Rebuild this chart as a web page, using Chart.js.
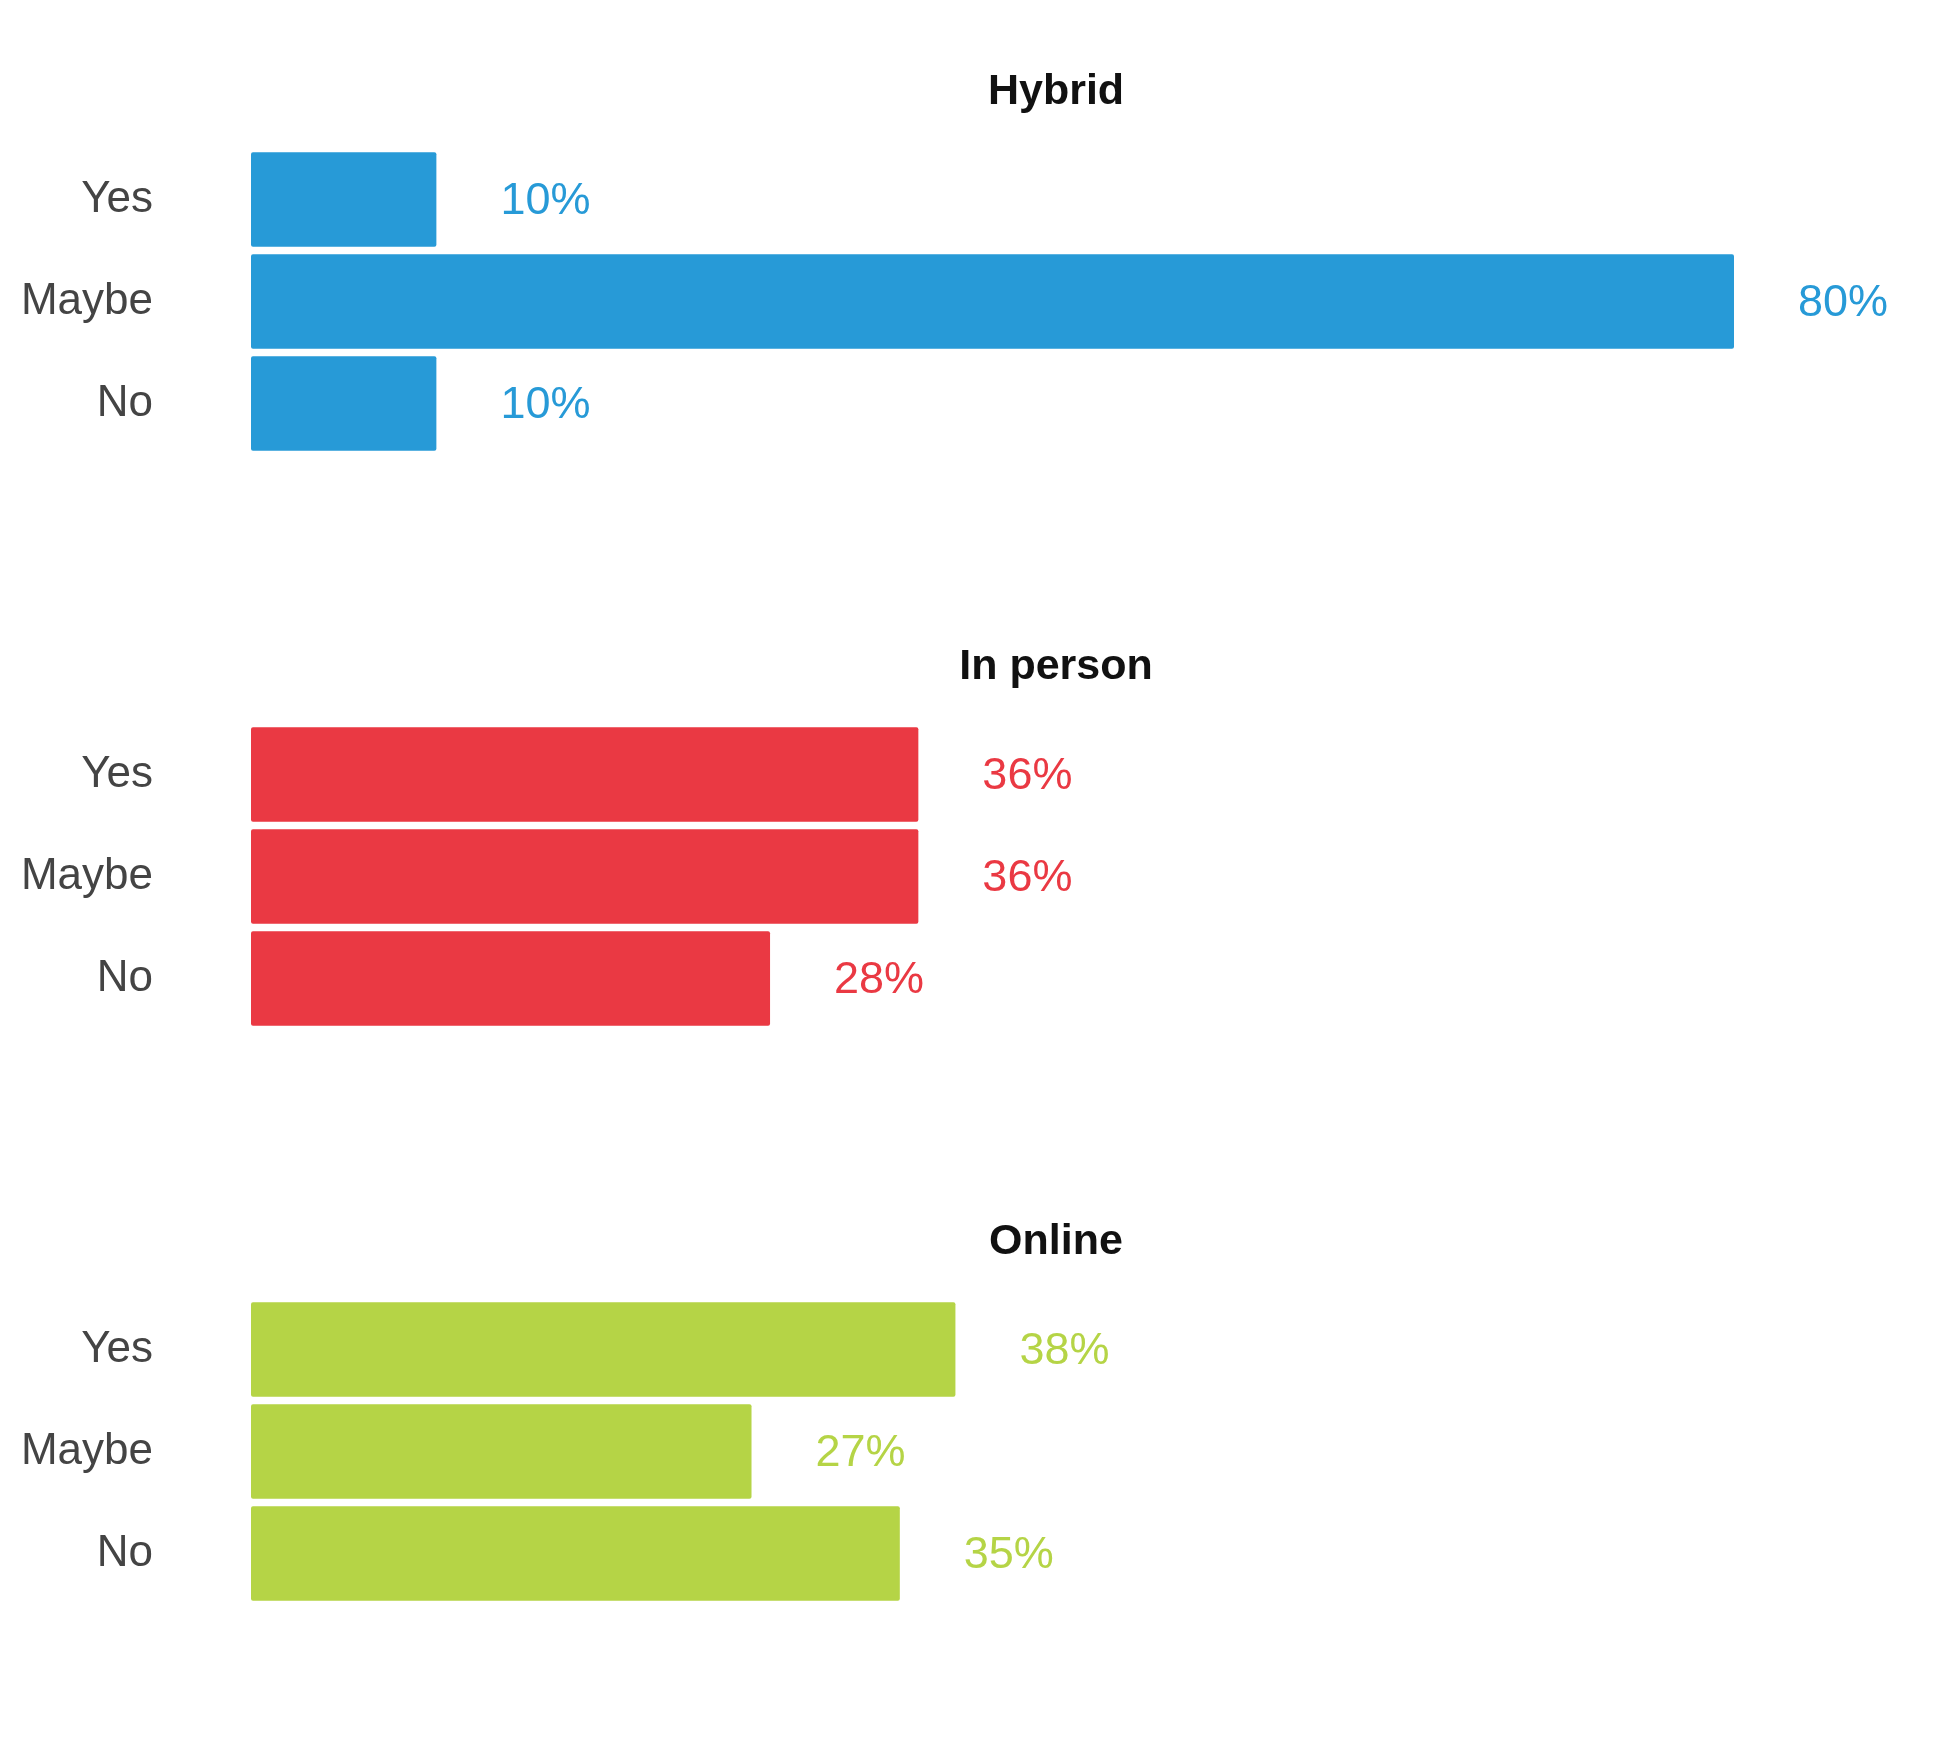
<!DOCTYPE html>
<html>
<head>
<meta charset="utf-8">
<script src="https://cdn.jsdelivr.net/npm/chart.js@4"></script>
<style>
  body { margin: 0; background: #fff; }
  canvas { position: absolute; left: 0; }
</style>
</head>
<body>
<canvas id="c0"></canvas>
<canvas id="c1"></canvas>
<canvas id="c2"></canvas>
<script>
// Data
const answers = ['Yes', 'Maybe', 'No'];
const panelTitles = ['Hybrid', 'In person', 'Online'];
const hybridValues = [10, 80, 10];
const inPersonValues = [36, 36, 28];
const onlineValues = [38, 27, 35];
const panelColors = ['#279ad7', '#ea3943', '#b5d446'];

const allValues = [hybridValues, inPersonValues, onlineValues];
const areaTops = [124, 699, 1274];
const PAD_TOP = 100, PAD_BOTTOM = 20, AREA_H = 435;
const FONT = '"Liberation Sans", Arial, sans-serif';

// Draws the panel title and the value labels at the bar ends
const labelPlugin = {
    id: 'labels',
    afterDatasetsDraw(chart, args, opts) {
        const ctx = chart.ctx;
        ctx.save();
        ctx.font = 'bold 43px ' + FONT;
        ctx.fillStyle = '#111';
        ctx.textAlign = 'center';
        ctx.textBaseline = 'middle';
        ctx.fillText(opts.title, 1056, chart.chartArea.top - 56);

        ctx.font = '45px ' + FONT;
        ctx.fillStyle = opts.color;
        ctx.textAlign = 'left';
        chart.getDatasetMeta(0).data.forEach((bar, i) => {
            const v = chart.data.datasets[0].data[i];
            ctx.fillText(v + '%', bar.x + 64, bar.y + 2);
        });
        ctx.restore();
    }
};

allValues.forEach((values, i) => {
    const canvas = document.getElementById('c' + i);
    canvas.width = 1945;
    canvas.height = AREA_H + PAD_TOP + PAD_BOTTOM;
    canvas.style.top = (areaTops[i] - PAD_TOP) + 'px';

    new Chart(canvas, {
        type: 'bar',
        data: {
            labels: answers,
            datasets: [{
                data: values,
                backgroundColor: panelColors[i],
                barPercentage: 0.925,
                categoryPercentage: 1,
                borderRadius: 2,
                borderSkipped: false
            }]
        },
        options: {
            indexAxis: 'y',
            responsive: false,
            devicePixelRatio: 1,
            animation: false,
            layout: { padding: { top: PAD_TOP, bottom: PAD_BOTTOM, left: 0, right: 211 } },
            plugins: {
                legend: { display: false },
                tooltip: { enabled: false },
                labels: { title: panelTitles[i], color: panelColors[i] }
            },
            scales: {
                x: { display: false, min: 0, max: 80 },
                y: {
                    border: { display: false },
                    grid: { display: false, drawTicks: false },
                    ticks: { color: '#444', font: { size: 44, family: FONT }, padding: 98 },
                    afterFit(scale) { scale.width = 251; }
                }
            }
        },
        plugins: [labelPlugin]
    });
});
</script>
</body>
</html>
